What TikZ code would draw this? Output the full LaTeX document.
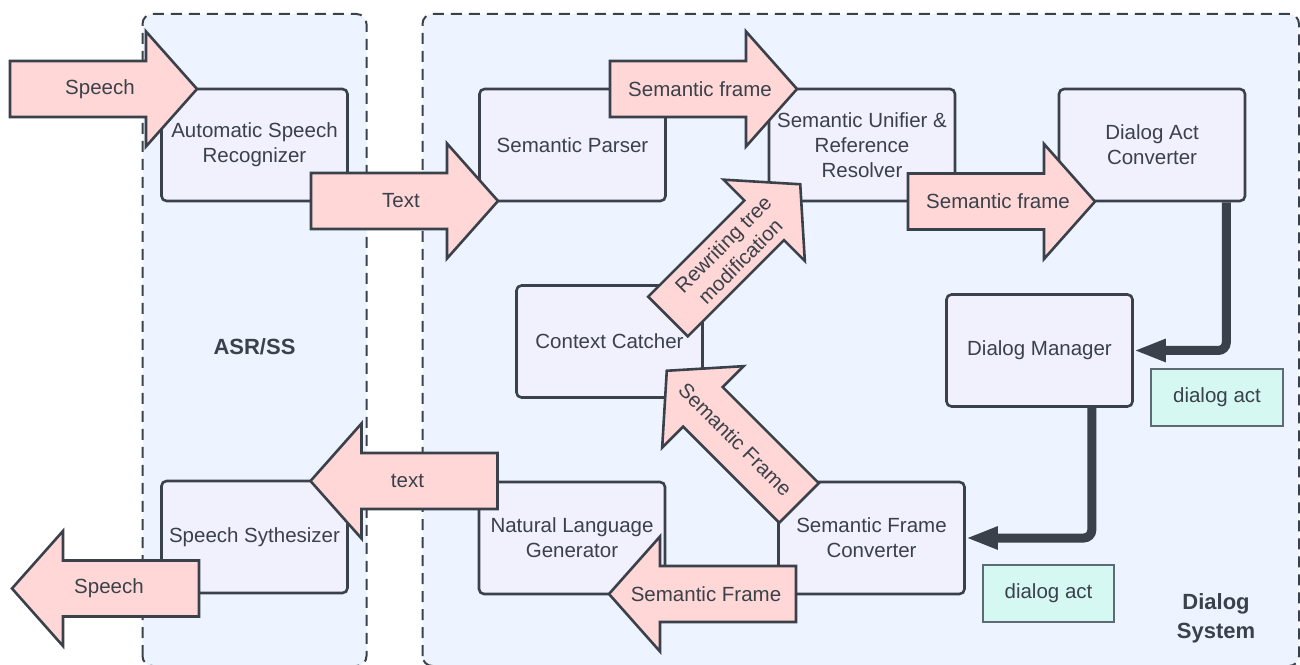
\documentclass[tikz,border=0pt]{standalone}
\usepackage{fontspec}
\setmainfont{Liberation Sans}
\usetikzlibrary{arrows.meta}

\definecolor{inkgray}{HTML}{3A414A}
\definecolor{groupblue}{HTML}{EDF4FF}
\definecolor{boxlilac}{HTML}{F1F0FD}
\definecolor{flowpink}{HTML}{FFD7D7}
\definecolor{notemint}{HTML}{D6F8F2}
\definecolor{noteline}{HTML}{5F6B74}

\tikzset{
  group/.style={draw=inkgray, fill=groupblue, line width=2pt, dash pattern=on 11pt off 7pt, rounded corners=10pt},
  module/.style={draw=inkgray, fill=boxlilac, line width=2.6pt, rounded corners=5pt, minimum width=186pt, minimum height=112pt, align=center, text=inkgray, font=\fontsize{20.5}{25}\selectfont},
  note/.style={draw=noteline, fill=notemint, line width=1.3pt, minimum width=131pt, minimum height=57pt, text=inkgray, font=\fontsize{20.5}{25}\selectfont},
  flow/.style={draw=inkgray, fill=flowpink, line width=2.6pt, line join=miter},
  flowtext/.style={align=center, text=inkgray, font=\fontsize{20.5}{24}\selectfont},
  heavy/.style={draw=inkgray, line width=9pt, rounded corners=8pt, -{Triangle[length=32pt,width=21pt]}},
  title/.style={align=center, text=inkgray, font=\bfseries\fontsize{22}{29}\selectfont},
}

% block arrow: name, tail, direction, label angle, label
\newcommand{\flowarrow}[5]{%
  \begin{scope}[shift={#2}, rotate=#3]
    \draw[flow] (0,28) -- (136,28) -- (136,57.5) -- (187,0) -- (136,-57.5) -- (136,-28) -- (0,-28) -- cycle;
    \node[flowtext, rotate=#4] (#1) at (90,0) {#5};
  \end{scope}}

\begin{document}
\begin{tikzpicture}[x=1pt, y=1pt]
    \useasboundingbox (0,0) rectangle (1300,664);

    % Groups
    \draw[group] (142.5,-2) rectangle (366.5,650);
    \draw[group] (422.5,-2) rectangle (1299,650);
    \node[title] (asrss) at (254.5,317) {ASR/SS};
    \node[title] (dsys) at (1216,46) {Dialog\\System};

    % Modules
    \node[module] (asr) at (254.5,519) {Automatic Speech\\Recognizer};
    \node[module] (parser) at (572.5,519) {Semantic Parser};
    \node[module] (unifier) at (862,519) {Semantic Unifier \&\\Reference\\Resolver};
    \node[module] (dac) at (1152,519) {Dialog Act\\Converter};
    \node[module] (cc) at (609.5,322.5) {Context Catcher};
    \node[module] (dm) at (1039.5,313.5) {Dialog Manager};
    \node[module] (ss) at (254.5,127) {Speech Sythesizer};
    \node[module] (nlg) at (572,126) {Natural Language\\Generator};
    \node[module] (sfc) at (871.5,126) {Semantic Frame\\Converter};

    % Notes
    \node[note, minimum width=132pt] (actA) at (1217,266.5) {dialog act};
    \node[note] (actB) at (1048.5,70.5) {dialog act};

    % Data flow
    \flowarrow{speechin}{(10,575)}{0}{0}{Speech}
    \flowarrow{textin}{(311,463)}{0}{0}{Text}
    \flowarrow{frameA}{(610,575)}{0}{0}{Semantic frame}
    \flowarrow{frameB}{(908,462.5)}{0}{0}{Semantic frame}
    \flowarrow{rewrite}{(668,347.5)}{45}{45}{Rewriting tree\\modification}
    \flowarrow{frameC}{(799,161)}{135}{-45}{Semantic Frame}
    \flowarrow{frameD}{(796,70)}{180}{0}{Semantic Frame}
    \flowarrow{textout}{(497.5,183)}{180}{0}{text}
    \flowarrow{speechout}{(199,75.5)}{180}{0}{Speech}

    % Dialog act hand-off
    \draw[heavy] ([xshift=-20pt]dac.south east) |- (dm.east);
    \draw[heavy] ([xshift=-42pt]dm.south east) |- (sfc.east);
\end{tikzpicture}
\end{document}
